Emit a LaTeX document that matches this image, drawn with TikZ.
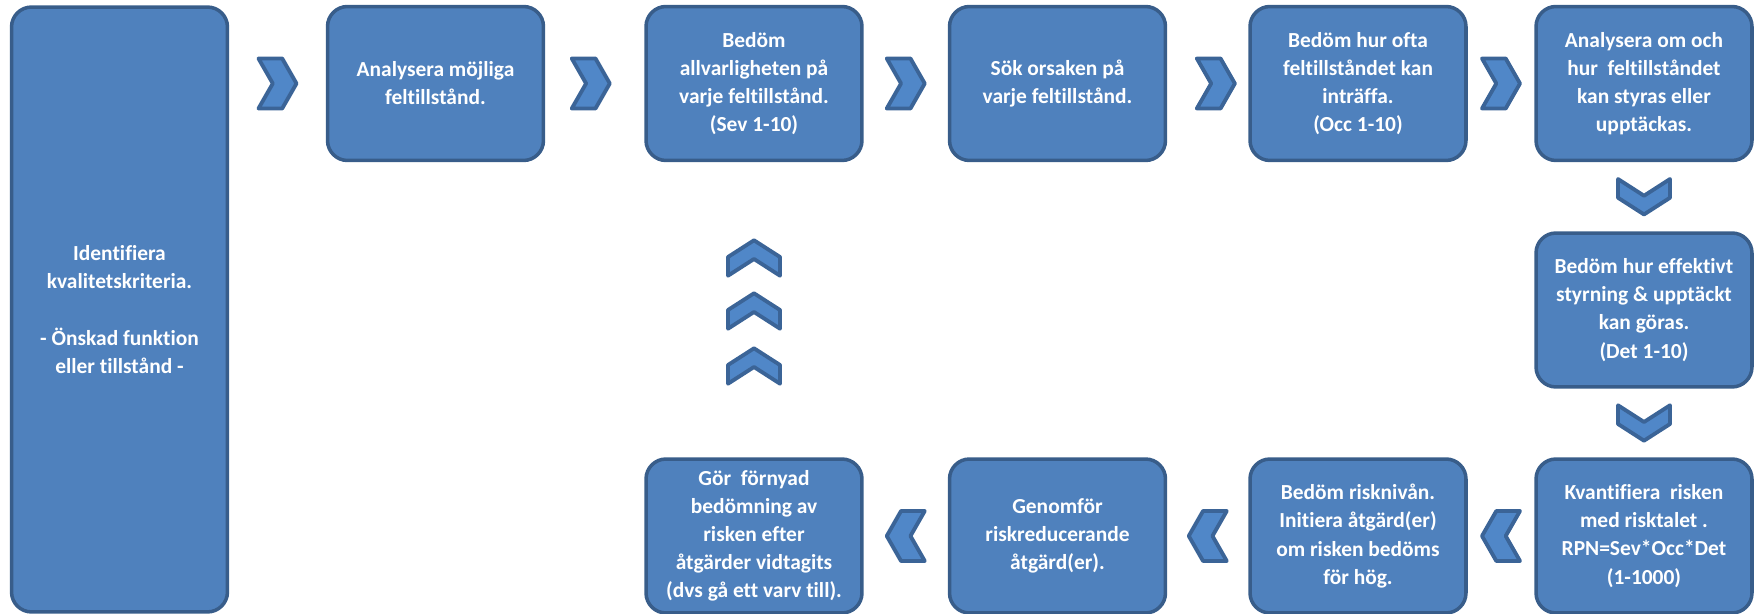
\documentclass[tikz,border=0pt]{standalone}
\usepackage{fontspec}
\setmainfont{Carlito}[BoldFont={Carlito Bold}, Ligatures=NoCommon]
\usetikzlibrary{calc}
\definecolor{stepfill}{HTML}{4F81BD}
\definecolor{stepline}{HTML}{385D8A}
\definecolor{chevfill}{HTML}{5087C8}
\definecolor{chevline}{HTML}{3B6497}
\tikzset{
	stepbox/.style={draw=stepline, fill=stepfill, line width=2pt, rounded corners=0.4cm,
		text=white, align=center, inner sep=0pt,
		font=\fontsize{12.2}{16}\selectfont\bfseries,
		minimum width=4.32cm, minimum height=3.08cm},
	chevron/.style={draw=chevline, fill=chevfill, line width=2.2pt, line join=round},
	pics/hchev/.style={code={\filldraw[chevron] (-19,-25) -- (4.7,-25) -- (19,0) -- (4.7,25) -- (-19,25) -- (-4.7,0) -- cycle;}},
	pics/vchev/.style={code={\filldraw[chevron] (-17.7,-26) -- (1,-26) -- (17.7,0) -- (1,26) -- (-17.7,26) -- (-1,0) -- cycle;}}
}
\begin{document}
\begin{tikzpicture}[x=0.02cm, y=-0.02cm]
			\useasboundingbox (0,0) rectangle (1758,614);
			% top row
			\node[stepbox, minimum height=12.1cm] (ident) at (119.5,309.5) {Identifiera\\kvalitetskriteria.\\[16pt]- Önskad funktion\\eller tillstånd -};
			\node[stepbox] (analys) at (435.5,83.5) {Analysera möjliga\\feltillstånd.};
			\node[stepbox] (allvar) at (754,83.5) {Bedöm\\allvarligheten på\\varje feltillstånd.\\(Sev 1-10)};
			\node[stepbox] (orsak) at (1057.5,83.5) {Sök orsaken på\\varje feltillstånd.};
			\node[stepbox] (ofta) at (1358,83.5) {Bedöm hur ofta\\feltillståndet kan\\inträffa.\\(Occ 1-10)};
			\node[stepbox] (styr) at (1644,83.5) {Analysera om och\\hur\ \ feltillståndet\\kan styras eller\\upptäckas.};
			% right column and bottom row
			\node[stepbox] (effekt) at (1644,310) {Bedöm hur effektivt\\styrning \& upptäckt\\kan göras.\\(Det 1-10)};
			\node[stepbox] (kvant) at (1644,536) {Kvantifiera\ \ risken\\med risktalet .\\RPN=Sev*Occ*Det\\(1-1000)};
			\node[stepbox] (niva) at (1358,536) {Bedöm risknivån.\\Initiera åtgärd(er)\\om risken bedöms\\för hög.};
			\node[stepbox] (genomf) at (1057.5,536) {Genomför\\riskreducerande\\åtgärd(er).};
			\node[stepbox] (fornyad) at (754,536) {Gör\ \ förnyad\\bedömning av\\risken efter\\åtgärder vidtagits\\(dvs gå ett varv till).};
			% chevrons
			\path (ident.east |- analys) -- (analys.west) pic[pos=0.5] {hchev};
			\path (analys.east) -- (allvar.west) pic[pos=0.46] {hchev};
			\path (allvar.east) -- (orsak.west) pic[pos=0.5] {hchev};
			\path (orsak.east) -- (ofta.west) pic[pos=0.6] {hchev};
			\path (ofta.east) -- (styr.west) pic[pos=0.5] {hchev};
			\path (styr.south) -- (effekt.north) pic[pos=0.5, rotate=-90] {vchev};
			\path (effekt.south) -- (kvant.north) pic[pos=0.5, rotate=-90] {vchev};
			\path (kvant.west) -- (niva.east) pic[pos=0.5, rotate=180] {hchev};
			\path (niva.west) -- (genomf.east) pic[pos=0.5, rotate=180] {hchev};
			\path (genomf.west) -- (fornyad.east) pic[pos=0.5, rotate=180] {hchev};
			\foreach \y in {258,311,366}
				\pic[rotate=90] at (fornyad.center |- 0,\y) {vchev};
\end{tikzpicture}
\end{document}
